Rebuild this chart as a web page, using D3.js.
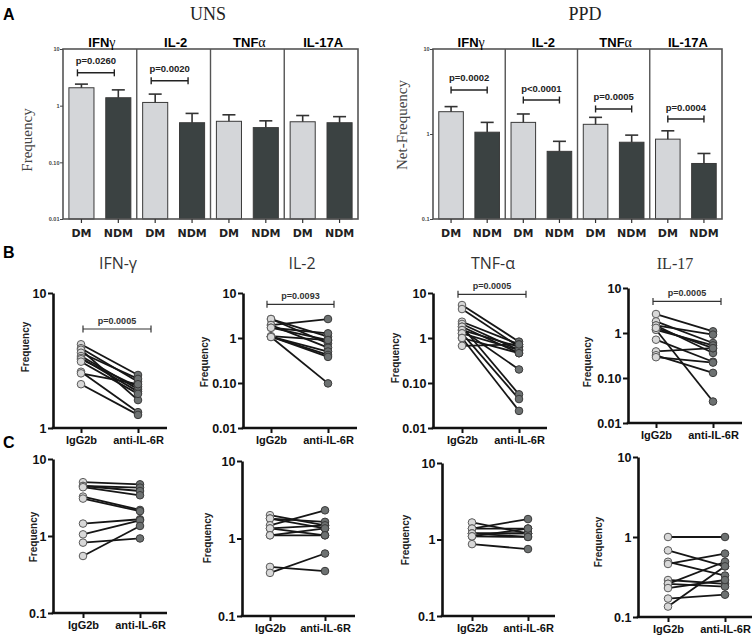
<!DOCTYPE html>
<html><head><meta charset="utf-8">
<script src="https://cdn.jsdelivr.net/npm/d3@7"></script>
<style>body{margin:0;background:#fff}svg{display:block}</style>
</head><body>
<svg id="c" width="754" height="635"></svg>
<script>
// ---------------- DATA ----------------
const cytokinesA = ["IFNγ", "IL-2", "TNFα", "IL-17A"];
const groupsA = ["DM", "NDM"];
// order: IFNγ DM, IFNγ NDM, IL-2 DM, IL-2 NDM, TNFα DM, TNFα NDM, IL-17A DM, IL-17A NDM
const unsMean  = [2.07, 1.38, 1.14, 0.50, 0.53, 0.41, 0.52, 0.50];
const unsUpper = [2.40, 1.90, 1.60, 0.73, 0.69, 0.54, 0.67, 0.64];
const ppdMean  = [1.83, 1.05, 1.37, 0.625, 1.30, 0.80, 0.87, 0.45];
const ppdUpper = [2.10, 1.37, 1.72, 0.82, 1.57, 0.97, 1.09, 0.59];
const unsPvals  = ["p=0.0260", "p=0.0020", null, null];
const unsPlevel = [3.8, 2.75, null, null];
const ppdPvals  = ["p=0.0002", "p<0.0001", "p=0.0005", "p=0.0004"];
const ppdPlevel = [3.3, 2.51, 1.97, 1.5];
const unsTicks = [10, 1, 0.1, 0.01];
const unsTickLabels = ["10", "1", "0.10", "0.01"];
const ppdTicks = [10, 1, 0.1];
const ppdTickLabels = ["10", "1", "0.1"];

const pairGroups = ["IgG2b", "anti-IL-6R"];
const pairTitles = ["IFN-γ", "IL-2", "TNF-α", "IL-17"];
// Row B
const bIfngIgG2b = [4.17, 3.9, 3.8, 3.61, 3.41, 3.3, 3.23, 3.10, 2.61, 2.54, 2.11];
const bIfngAnti  = [2.47, 2.2, 1.61, 2.31, 1.94, 1.86, 2.02, 1.79, 1.31, 2.11, 1.25];
const bIl2IgG2b  = [2.64, 2.64, 1.94, 1.94, 1.69, 1.69, 1.07, 1.07, 1.07, 1.10, 1.05];
const bIl2Anti   = [1.07, 0.76, 2.64, 0.61, 1.27, 0.90, 0.50, 0.42, 0.38, 0.90, 0.098];
const bTnfIgG2b  = [5.4, 4.4, 2.3, 2.05, 1.78, 1.78, 1.5, 1.5, 1.27, 1.27, 1.0, 1.0, 0.67];
const bTnfAnti   = [0.83, 0.64, 0.72, 0.54, 0.46, 0.056, 0.64, 0.2, 0.54, 0.044, 0.46, 0.024, 0.72];
const bIl17IgG2b = [2.64, 1.81, 1.47, 1.47, 1.18, 1.18, 1.30, 0.71, 0.39, 0.32, 0.29];
const bIl17Anti  = [1.09, 0.60, 0.92, 0.36, 0.53, 0.03, 0.46, 0.23, 0.46, 0.13, 0.22];
const bPvals  = ["p=0.0005", "p=0.0093", "p=0.0005", "p=0.0005"];
const bPlevel = [5.41, 5.6, 9.35, 5.04];
// Row C
const cIfngIgG2b = [5.0, 4.46, 4.46, 4.3, 3.25, 3.06, 1.45, 1.05, 0.82, 0.55];
const cIfngAnti  = [4.69, 4.25, 3.84, 3.38, 2.18, 2.10, 1.65, 1.60, 0.93, 1.35];
const cIl2IgG2b  = [2.0, 1.81, 1.81, 1.48, 1.35, 1.35, 1.10, 1.10, 0.43, 0.36];
const cIl2Anti   = [1.48, 1.35, 1.64, 2.31, 1.48, 1.10, 1.35, 1.10, 0.38, 0.64];
const cTnfIgG2b  = [1.67, 1.39, 1.39, 1.2, 1.2, 1.2, 1.1, 1.1, 0.87];
const cTnfAnti   = [1.2, 1.85, 1.39, 1.08, 1.2, 1.2, 1.39, 1.08, 0.75];
const cIl17IgG2b = [1.0, 0.68, 0.49, 0.46, 0.29, 0.26, 0.26, 0.23, 0.17, 0.135];
const cIl17Anti  = [1.0, 0.43, 0.33, 0.62, 0.26, 0.49, 0.24, 0.29, 0.19, 0.43];
const bTicks = [0.01, 0.1, 1, 10];
const bTickLabels = ["0.01", "0.10", "1", "10"];
const bIfngTicks = [1, 10];
const bIfngTickLabels = ["1", "10"];
const cTicks = [0.1, 1, 10];
const cTickLabels = ["0.1", "1", "10"];

// ---------------- DRAWING ----------------
const svg = d3.select("#c");
const SANS = "Liberation Sans, Arial, sans-serif";
const SERIF = "Liberation Serif, Times New Roman, serif";
const LIGHT = "#d4d6d9", DARK = "#3b4242";

// panel letters
[["A", 14], ["B", 252], ["C", 442]].forEach(([t, y]) => {
  svg.append("text").attr("x", 3).attr("y", y).attr("dominant-baseline", "central")
    .attr("font-family", SANS).attr("font-weight", "bold").attr("font-size", 16).text(t);
});

function greekHeader(g, x, y, txt, size) {
  const t = g.append("text").attr("x", x).attr("y", y).attr("text-anchor", "middle")
    .attr("font-family", SANS).attr("font-weight", "bold").attr("font-size", size);
  for (const ch of txt) {
    if (/[α-ω]/.test(ch)) t.append("tspan").attr("font-family", SERIF).attr("font-weight", "normal").attr("font-size", size + 1).text(ch);
    else t.append("tspan").text(ch);
  }
}

function barPanel(cfg) {
  const g = svg.append("g");
  const keys = [];
  cytokinesA.forEach(c => groupsA.forEach(gr => keys.push(c + "|" + gr)));
  const x = d3.scaleBand().domain(keys).range([cfg.x0, cfg.x1]).paddingInner(0.32).paddingOuter(0.16);
  const y = d3.scaleLog().domain(cfg.domain).range([cfg.yb, cfg.yt]);
  const data = keys.map((k, i) => ({k, grp: k.split("|")[1], m: cfg.mean[i], u: cfg.upper[i]}));
  // bars
  g.selectAll("rect.bar").data(data).join("rect")
    .attr("x", d => x(d.k)).attr("width", x.bandwidth())
    .attr("y", d => y(d.m)).attr("height", d => cfg.yb - y(d.m))
    .attr("fill", d => d.grp === "DM" ? LIGHT : DARK).attr("stroke", "#3a3a3a").attr("stroke-width", 1);
  // error bars
  const cap = 6.5;
  data.forEach(d => {
    const cx = x(d.k) + x.bandwidth() / 2;
    g.append("line").attr("x1", cx).attr("x2", cx).attr("y1", y(d.m)).attr("y2", y(d.u)).attr("stroke", "#333").attr("stroke-width", 1.6);
    g.append("line").attr("x1", cx - cap).attr("x2", cx + cap).attr("y1", y(d.u)).attr("y2", y(d.u)).attr("stroke", "#333").attr("stroke-width", 1.6);
  });
  // frame & dividers
  g.append("rect").attr("x", cfg.x0).attr("y", cfg.yt).attr("width", cfg.x1 - cfg.x0).attr("height", cfg.yb - cfg.yt)
    .attr("fill", "none").attr("stroke", "#555").attr("stroke-width", 1.6);
  for (let k = 1; k < 4; k++) {
    const xx = x(keys[2 * k]) - x.step() * x.paddingInner() / 2;
    g.append("line").attr("x1", xx).attr("x2", xx).attr("y1", cfg.yt).attr("y2", cfg.yb).attr("stroke", "#555").attr("stroke-width", 1.4);
  }
  // left axis
  const ax = g.append("g").attr("transform", `translate(${cfg.x0},0)`)
    .call(d3.axisLeft(y).tickValues(cfg.ticks).tickFormat((d, i) => cfg.tickLabels[i]).tickSize(3).tickSizeOuter(0));
  ax.select(".domain").remove();
  ax.selectAll("line").attr("stroke", "#444");
  ax.selectAll("text").attr("font-family", SANS).attr("font-weight", "bold").attr("font-size", 5.5).attr("fill", "#444").attr("x", -3.5);
  // bottom axis
  const bx = g.append("g").attr("transform", `translate(0,${cfg.yb})`)
    .call(d3.axisBottom(x).tickSize(4).tickSizeOuter(0).tickFormat(k => k.split("|")[1]));
  bx.select(".domain").remove();
  bx.selectAll("line").attr("stroke", "#333").attr("stroke-width", 1.2);
  bx.selectAll("text").attr("font-family", "DejaVu Sans, Verdana, sans-serif").attr("font-weight", "bold").attr("font-size", 11)
    .attr("fill", "#222").attr("y", 10);
  // headers
  cytokinesA.forEach((c, i) => {
    const cx = (x(keys[2 * i]) + x(keys[2 * i + 1]) + x.bandwidth()) / 2;
    greekHeader(g, cx + 2, cfg.yt - 2.5, c, 13);
  });
  // p-values
  cfg.pvals.forEach((p, i) => {
    if (!p) return;
    const xa = x(keys[2 * i]) + x.bandwidth() / 2 + cfg.pdx;
    const xb = x(keys[2 * i + 1]) + x.bandwidth() / 2 + cfg.pdx;
    const yy = y(cfg.plevel[i]);
    g.append("line").attr("x1", xa).attr("x2", xb).attr("y1", yy).attr("y2", yy).attr("stroke", "#222").attr("stroke-width", 1.4);
    [xa, xb].forEach(xx => g.append("line").attr("x1", xx).attr("x2", xx).attr("y1", yy - 3.5).attr("y2", yy + 3.5).attr("stroke", "#222").attr("stroke-width", 1.4));
    g.append("text").attr("x", (xa + xb) / 2).attr("y", yy - 12).attr("text-anchor", "middle").attr("dominant-baseline", "central")
      .attr("font-family", SANS).attr("font-weight", "bold").attr("font-size", 9.5).attr("fill", "#222").text(p);
  });
  // title & y label
  svg.append("text").attr("x", cfg.titleX).attr("y", 14).attr("text-anchor", "middle").attr("dominant-baseline", "central")
    .attr("font-family", SERIF).attr("font-size", 18).attr("fill", "#222").text(cfg.title);
  svg.append("text").attr("transform", `translate(${cfg.ylabX},${cfg.ylabY}) rotate(-90)`).attr("text-anchor", "middle")
    .attr("dominant-baseline", "central").attr("font-family", SERIF).attr("font-size", 15).attr("fill", "#444").text(cfg.ylab);
}

barPanel({x0: 63, x1: 358, yt: 49, yb: 219, domain: [0.01, 10], mean: unsMean, upper: unsUpper,
  ticks: unsTicks, tickLabels: unsTickLabels, pvals: unsPvals, plevel: unsPlevel, pdx: -4,
  title: "UNS", titleX: 208, ylab: "Frequency", ylabX: 27, ylabY: 140});
barPanel({x0: 433, x1: 722, yt: 49, yb: 219, domain: [0.1, 10], mean: ppdMean, upper: ppdUpper,
  ticks: ppdTicks, tickLabels: ppdTickLabels, pvals: ppdPvals, plevel: ppdPlevel, pdx: 0,
  title: "PPD", titleX: 585, ylab: "Net-Frequency", ylabX: 402, ylabY: 125});

function pairedPanel(cfg) {
  const g = svg.append("g");
  const x = d3.scalePoint().domain(pairGroups).range([cfg.xL + cfg.g1, cfg.xL + cfg.g2]);
  const y = d3.scaleLog().domain(cfg.domain).range([cfg.yb, cfg.yt]);
  const pairs = cfg.a.map((v, i) => [v, cfg.b[i]]);
  // lines
  g.selectAll("line.pair").data(pairs).join("line")
    .attr("x1", x(pairGroups[0])).attr("x2", x(pairGroups[1]))
    .attr("y1", d => y(d[0])).attr("y2", d => y(d[1]))
    .attr("stroke", "#161616").attr("stroke-width", 1.8);
  // points
  g.selectAll("circle.a").data(cfg.a).join("circle").attr("cx", x(pairGroups[0])).attr("cy", d => y(d)).attr("r", 3.8)
    .attr("fill", "#d8d8d8").attr("stroke", "#5a5a5a").attr("stroke-width", 1);
  g.selectAll("circle.b").data(cfg.b).join("circle").attr("cx", x(pairGroups[1])).attr("cy", d => y(d)).attr("r", 3.8)
    .attr("fill", "#6d7171").attr("stroke", "#3a3a3a").attr("stroke-width", 1);
  // y axis
  const ay = g.append("g").attr("transform", `translate(${cfg.xL},0)`)
    .call(d3.axisLeft(y).tickValues(cfg.ticks).tickFormat((d, i) => cfg.tickLabels[i]).tickSize(5).tickSizeOuter(0));
  ay.select(".domain").attr("stroke", "#111").attr("stroke-width", 2.6);
  ay.selectAll(".tick line").attr("stroke", "#111").attr("stroke-width", 2);
  ay.selectAll("text").attr("font-family", SANS).attr("font-weight", "bold").attr("font-size", 12.5).attr("fill", "#111").attr("x", -6.5);
  // x axis
  g.append("line").attr("x1", cfg.xL - 1.3).attr("x2", cfg.xR).attr("y1", cfg.yb).attr("y2", cfg.yb).attr("stroke", "#111").attr("stroke-width", 2.6);
  const axb = g.append("g").attr("transform", `translate(0,${cfg.yb})`)
    .call(d3.axisBottom(x).tickSize(5).tickSizeOuter(0));
  axb.select(".domain").remove();
  axb.selectAll(".tick line").attr("stroke", "#111").attr("stroke-width", 2);
  axb.selectAll("text").attr("font-family", SANS).attr("font-weight", "bold").attr("font-size", 11).attr("fill", "#111").attr("y", 8);
  // y label
  g.append("text").attr("transform", `translate(${cfg.flX},${cfg.flY}) rotate(-90)`).attr("text-anchor", "middle")
    .attr("dominant-baseline", "central").attr("font-family", SANS).attr("font-weight", "bold").attr("font-size", 10).attr("fill", "#222").text("Frequency");
  // title
  if (cfg.title) {
    g.append("text").attr("x", cfg.titleX).attr("y", 263).attr("text-anchor", "middle").attr("dominant-baseline", "central")
      .attr("font-family", cfg.serif ? SERIF : "Open Sans, sans-serif").attr("font-size", 16).attr("fill", "#333").text(cfg.title);
  }
  // p-value bracket
  if (cfg.p) {
    const xa = x(pairGroups[0]) + cfg.pdx0, xb = x(pairGroups[1]) + cfg.pdx1, yy = y(cfg.plevel);
    g.append("line").attr("x1", xa).attr("x2", xb).attr("y1", yy).attr("y2", yy).attr("stroke", "#333").attr("stroke-width", 1.2);
    [xa, xb].forEach(xx => g.append("line").attr("x1", xx).attr("x2", xx).attr("y1", yy - 3.5).attr("y2", yy + 3.5).attr("stroke", "#333").attr("stroke-width", 1.2));
    g.append("text").attr("x", (xa + xb) / 2).attr("y", yy - 5).attr("text-anchor", "middle")
      .attr("font-family", SANS).attr("font-weight", "bold").attr("font-size", 9).attr("fill", "#333").text(cfg.p);
  }
}

// Row B
pairedPanel({xL: 53, g1: 28, g2: 85, xR: 167, yt: 293, yb: 428, domain: [1, 10], ticks: bIfngTicks, tickLabels: bIfngTickLabels,
  a: bIfngIgG2b, b: bIfngAnti, title: pairTitles[0], titleX: 118, p: bPvals[0], plevel: bPlevel[0], pdx0: 2, pdx1: 13, flX: 25, flY: 347});
pairedPanel({xL: 243, g1: 28, g2: 85, xR: 357, yt: 293, yb: 428, domain: [0.01, 10], ticks: bTicks, tickLabels: bTickLabels,
  a: bIl2IgG2b, b: bIl2Anti, title: pairTitles[1], titleX: 302, p: bPvals[1], plevel: bPlevel[1], pdx0: -4, pdx1: 6, flX: 204, flY: 362});
pairedPanel({xL: 433, g1: 29, g2: 86, xR: 547, yt: 293, yb: 428, domain: [0.01, 10], ticks: bTicks, tickLabels: bTickLabels,
  a: bTnfIgG2b, b: bTnfAnti, title: pairTitles[2], titleX: 493, p: bPvals[2], plevel: bPlevel[2], pdx0: -4, pdx1: 7, flX: 395, flY: 358});
pairedPanel({xL: 628, g1: 28, g2: 85, xR: 742, yt: 288, yb: 423, domain: [0.01, 10], ticks: bTicks, tickLabels: bTickLabels,
  a: bIl17IgG2b, b: bIl17Anti, title: pairTitles[3], titleX: 675, serif: true, p: bPvals[3], plevel: bPlevel[3], pdx0: -3, pdx1: 8, flX: 587, flY: 362});
// Row C
pairedPanel({xL: 53, g1: 30, g2: 87, xR: 167, yt: 459, yb: 613, domain: [0.1, 10], ticks: cTicks, tickLabels: cTickLabels,
  a: cIfngIgG2b, b: cIfngAnti, flX: 33, flY: 537});
pairedPanel({xL: 242, g1: 28, g2: 83, xR: 355, yt: 461, yb: 616, domain: [0.1, 10], ticks: cTicks, tickLabels: cTickLabels,
  a: cIl2IgG2b, b: cIl2Anti, flX: 207, flY: 538});
pairedPanel({xL: 442, g1: 30, g2: 86, xR: 555, yt: 463, yb: 616, domain: [0.1, 10], ticks: cTicks, tickLabels: cTickLabels,
  a: cTnfIgG2b, b: cTnfAnti, flX: 405, flY: 540});
pairedPanel({xL: 638, g1: 30, g2: 87, xR: 752, yt: 457, yb: 617, domain: [0.1, 10], ticks: cTicks, tickLabels: cTickLabels,
  a: cIl17IgG2b, b: cIl17Anti, flX: 598, flY: 542});
</script>
</body></html>
